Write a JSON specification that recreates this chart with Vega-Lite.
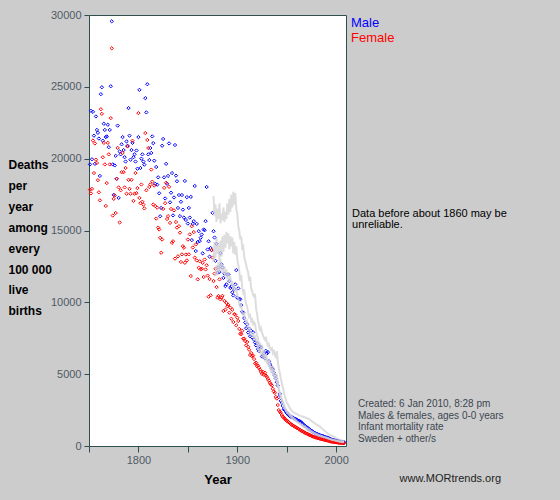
{
"$schema":"https://vega.github.io/schema/vega-lite/v6.json",
"width":257,"height":431,
"autosize":{"type":"none"},
"padding":{"left":89,"top":15,"right":214,"bottom":54},
"background":"#cccccc",
"config":{"view":{"stroke":"#2f4f4f","strokeWidth":1,"fill":"#ffffff"},"axis":{"grid":false,"domain":false,"tickColor":"#2f4f4f","tickWidth":1,"labelColor":"#4f5a64","labelFont":"Liberation Sans","labelFontSize":11,"titleFont":"Liberation Sans","titleColor":"#000000"}},
"datasets":{
"sweden":[
{"year":1751,"sex":"Male","rate":19600},{"year":1752,"sex":"Male","rate":23330},{"year":1753,"sex":"Male","rate":19960},{"year":1754,"sex":"Male","rate":23260},{"year":1755,"sex":"Male","rate":21600},{"year":1756,"sex":"Male","rate":19640},{"year":1757,"sex":"Male","rate":22940},{"year":1758,"sex":"Male","rate":22000},{"year":1759,"sex":"Male","rate":21800},{"year":1760,"sex":"Male","rate":21400},
{"year":1761,"sex":"Male","rate":18800},{"year":1762,"sex":"Male","rate":24490},{"year":1763,"sex":"Male","rate":24970},{"year":1764,"sex":"Male","rate":21250},{"year":1765,"sex":"Male","rate":22430},{"year":1766,"sex":"Male","rate":22000},{"year":1767,"sex":"Male","rate":21500},{"year":1768,"sex":"Male","rate":21550},{"year":1769,"sex":"Male","rate":22360},{"year":1770,"sex":"Male","rate":20800},
{"year":1771,"sex":"Male","rate":22000},{"year":1772,"sex":"Male","rate":25040},{"year":1773,"sex":"Male","rate":29560},{"year":1774,"sex":"Male","rate":19600},{"year":1775,"sex":"Male","rate":17480},{"year":1776,"sex":"Male","rate":19530},{"year":1777,"sex":"Male","rate":20200},{"year":1778,"sex":"Male","rate":18600},{"year":1779,"sex":"Male","rate":22300},{"year":1780,"sex":"Male","rate":17270},
{"year":1781,"sex":"Male","rate":20500},{"year":1782,"sex":"Male","rate":20300},{"year":1783,"sex":"Male","rate":21000},{"year":1784,"sex":"Male","rate":21500},{"year":1785,"sex":"Male","rate":20600},{"year":1786,"sex":"Male","rate":20100},{"year":1787,"sex":"Male","rate":19800},{"year":1788,"sex":"Male","rate":21200},{"year":1789,"sex":"Male","rate":20900},{"year":1790,"sex":"Male","rate":23520},
{"year":1791,"sex":"Male","rate":21600},{"year":1792,"sex":"Male","rate":19930},{"year":1793,"sex":"Male","rate":20600},{"year":1794,"sex":"Male","rate":21100},{"year":1795,"sex":"Male","rate":20100},{"year":1796,"sex":"Male","rate":20300},{"year":1797,"sex":"Male","rate":19800},{"year":1798,"sex":"Male","rate":20570},{"year":1799,"sex":"Male","rate":19300},{"year":1800,"sex":"Male","rate":21500},
{"year":1801,"sex":"Male","rate":24790},{"year":1802,"sex":"Male","rate":19350},{"year":1803,"sex":"Male","rate":20000},{"year":1804,"sex":"Male","rate":20300},{"year":1805,"sex":"Male","rate":19800},{"year":1806,"sex":"Male","rate":19580},{"year":1807,"sex":"Male","rate":24210},{"year":1808,"sex":"Male","rate":23220},{"year":1809,"sex":"Male","rate":25180},{"year":1810,"sex":"Male","rate":20300},
{"year":1811,"sex":"Male","rate":19900},{"year":1812,"sex":"Male","rate":20740},{"year":1813,"sex":"Male","rate":20400},{"year":1814,"sex":"Male","rate":21550},{"year":1815,"sex":"Male","rate":21080},{"year":1816,"sex":"Male","rate":19860},{"year":1817,"sex":"Male","rate":18250},{"year":1818,"sex":"Male","rate":19420},{"year":1819,"sex":"Male","rate":18190},{"year":1820,"sex":"Male","rate":18700},
{"year":1821,"sex":"Male","rate":17590},{"year":1822,"sex":"Male","rate":15990},{"year":1823,"sex":"Male","rate":16570},{"year":1824,"sex":"Male","rate":20900},{"year":1825,"sex":"Male","rate":21370},{"year":1826,"sex":"Male","rate":18700},{"year":1827,"sex":"Male","rate":17230},{"year":1828,"sex":"Male","rate":19640},{"year":1829,"sex":"Male","rate":18250},{"year":1830,"sex":"Male","rate":18800},
{"year":1831,"sex":"Male","rate":21060},{"year":1832,"sex":"Male","rate":16960},{"year":1833,"sex":"Male","rate":17630},{"year":1834,"sex":"Male","rate":19000},{"year":1835,"sex":"Male","rate":16050},{"year":1836,"sex":"Male","rate":17300},{"year":1837,"sex":"Male","rate":20950},{"year":1838,"sex":"Male","rate":18820},{"year":1839,"sex":"Male","rate":18430},{"year":1840,"sex":"Male","rate":16570},
{"year":1841,"sex":"Male","rate":17470},{"year":1842,"sex":"Male","rate":16000},{"year":1843,"sex":"Male","rate":17000},{"year":1844,"sex":"Male","rate":17470},{"year":1845,"sex":"Male","rate":16450},{"year":1846,"sex":"Male","rate":15900},{"year":1847,"sex":"Male","rate":18450},{"year":1848,"sex":"Male","rate":15730},{"year":1849,"sex":"Male","rate":17320},{"year":1850,"sex":"Male","rate":15480},
{"year":1851,"sex":"Male","rate":16570},{"year":1852,"sex":"Male","rate":15900},{"year":1853,"sex":"Male","rate":17340},{"year":1854,"sex":"Male","rate":14330},{"year":1855,"sex":"Male","rate":15460},{"year":1856,"sex":"Male","rate":15650},{"year":1857,"sex":"Male","rate":18100},{"year":1858,"sex":"Male","rate":13570},{"year":1859,"sex":"Male","rate":15460},{"year":1860,"sex":"Male","rate":14200},
{"year":1861,"sex":"Male","rate":14950},{"year":1862,"sex":"Male","rate":14260},{"year":1863,"sex":"Male","rate":14500},{"year":1864,"sex":"Male","rate":14720},{"year":1865,"sex":"Male","rate":13410},{"year":1866,"sex":"Male","rate":15070},{"year":1867,"sex":"Male","rate":15020},{"year":1868,"sex":"Male","rate":15650},{"year":1869,"sex":"Male","rate":18030},{"year":1870,"sex":"Male","rate":13680},
{"year":1871,"sex":"Male","rate":14250},{"year":1872,"sex":"Male","rate":13180},{"year":1873,"sex":"Male","rate":13780},{"year":1874,"sex":"Male","rate":13640},{"year":1875,"sex":"Male","rate":16230},{"year":1876,"sex":"Male","rate":14950},{"year":1877,"sex":"Male","rate":14510},{"year":1878,"sex":"Male","rate":12890},{"year":1879,"sex":"Male","rate":14070},{"year":1880,"sex":"Male","rate":12060},
{"year":1881,"sex":"Male","rate":12430},{"year":1882,"sex":"Male","rate":12110},{"year":1883,"sex":"Male","rate":13420},{"year":1884,"sex":"Male","rate":12650},{"year":1885,"sex":"Male","rate":12420},{"year":1886,"sex":"Male","rate":11700},{"year":1887,"sex":"Male","rate":12000},{"year":1888,"sex":"Male","rate":11130},{"year":1889,"sex":"Male","rate":11250},{"year":1890,"sex":"Male","rate":11940},
{"year":1891,"sex":"Male","rate":11940},{"year":1892,"sex":"Male","rate":11480},{"year":1893,"sex":"Male","rate":11000},{"year":1894,"sex":"Male","rate":11110},{"year":1895,"sex":"Male","rate":10700},{"year":1896,"sex":"Male","rate":10480},{"year":1897,"sex":"Male","rate":10920},{"year":1898,"sex":"Male","rate":11250},{"year":1899,"sex":"Male","rate":12240},{"year":1900,"sex":"Male","rate":10320},
{"year":1901,"sex":"Male","rate":10970},{"year":1902,"sex":"Male","rate":10250},{"year":1903,"sex":"Male","rate":10210},{"year":1904,"sex":"Male","rate":9810},{"year":1905,"sex":"Male","rate":9350},{"year":1906,"sex":"Male","rate":9280},{"year":1907,"sex":"Male","rate":8900},{"year":1908,"sex":"Male","rate":8600},{"year":1909,"sex":"Male","rate":8200},{"year":1910,"sex":"Male","rate":8470},
{"year":1911,"sex":"Male","rate":7900},{"year":1912,"sex":"Male","rate":8170},{"year":1913,"sex":"Male","rate":7640},{"year":1914,"sex":"Male","rate":8020},{"year":1915,"sex":"Male","rate":7560},{"year":1916,"sex":"Male","rate":7910},{"year":1917,"sex":"Male","rate":7400},{"year":1918,"sex":"Male","rate":7200},{"year":1919,"sex":"Male","rate":7000},{"year":1920,"sex":"Male","rate":7150},
{"year":1921,"sex":"Male","rate":6740},{"year":1922,"sex":"Male","rate":6600},{"year":1923,"sex":"Male","rate":6930},{"year":1924,"sex":"Male","rate":6860},{"year":1925,"sex":"Male","rate":6230},{"year":1926,"sex":"Male","rate":6300},{"year":1927,"sex":"Male","rate":6450},{"year":1928,"sex":"Male","rate":6100},{"year":1929,"sex":"Male","rate":6620},{"year":1930,"sex":"Male","rate":6440},
{"year":1931,"sex":"Male","rate":6530},{"year":1932,"sex":"Male","rate":5900},{"year":1933,"sex":"Male","rate":5700},{"year":1934,"sex":"Male","rate":5530},{"year":1935,"sex":"Male","rate":5400},{"year":1936,"sex":"Male","rate":5340},{"year":1937,"sex":"Male","rate":5110},{"year":1938,"sex":"Male","rate":4900},{"year":1939,"sex":"Male","rate":4700},{"year":1940,"sex":"Male","rate":4440},
{"year":1941,"sex":"Male","rate":4210},{"year":1942,"sex":"Male","rate":3400},{"year":1943,"sex":"Male","rate":3630},{"year":1944,"sex":"Male","rate":3140},{"year":1945,"sex":"Male","rate":3020},{"year":1946,"sex":"Male","rate":2790},{"year":1947,"sex":"Male","rate":2560},{"year":1948,"sex":"Male","rate":2500},{"year":1949,"sex":"Male","rate":2400},{"year":1950,"sex":"Male","rate":2300},
{"year":1951,"sex":"Male","rate":2250},{"year":1952,"sex":"Male","rate":2150},{"year":1953,"sex":"Male","rate":2100},{"year":1954,"sex":"Male","rate":2050},{"year":1955,"sex":"Male","rate":2000},{"year":1956,"sex":"Male","rate":1990},{"year":1957,"sex":"Male","rate":1950},{"year":1958,"sex":"Male","rate":1900},{"year":1959,"sex":"Male","rate":1870},{"year":1960,"sex":"Male","rate":1840},
{"year":1961,"sex":"Male","rate":1790},{"year":1962,"sex":"Male","rate":1750},{"year":1963,"sex":"Male","rate":1740},{"year":1964,"sex":"Male","rate":1680},{"year":1965,"sex":"Male","rate":1640},{"year":1966,"sex":"Male","rate":1550},{"year":1967,"sex":"Male","rate":1480},{"year":1968,"sex":"Male","rate":1420},{"year":1969,"sex":"Male","rate":1380},{"year":1970,"sex":"Male","rate":1330},
{"year":1971,"sex":"Male","rate":1270},{"year":1972,"sex":"Male","rate":1210},{"year":1973,"sex":"Male","rate":1160},{"year":1974,"sex":"Male","rate":1100},{"year":1975,"sex":"Male","rate":1060},{"year":1976,"sex":"Male","rate":1020},{"year":1977,"sex":"Male","rate":960},{"year":1978,"sex":"Male","rate":920},{"year":1979,"sex":"Male","rate":880},{"year":1980,"sex":"Male","rate":850},
{"year":1981,"sex":"Male","rate":830},{"year":1982,"sex":"Male","rate":800},{"year":1983,"sex":"Male","rate":770},{"year":1984,"sex":"Male","rate":740},{"year":1985,"sex":"Male","rate":720},{"year":1986,"sex":"Male","rate":700},{"year":1987,"sex":"Male","rate":680},{"year":1988,"sex":"Male","rate":650},{"year":1989,"sex":"Male","rate":620},{"year":1990,"sex":"Male","rate":600},
{"year":1991,"sex":"Male","rate":580},{"year":1992,"sex":"Male","rate":560},{"year":1993,"sex":"Male","rate":530},{"year":1994,"sex":"Male","rate":500},{"year":1995,"sex":"Male","rate":470},{"year":1996,"sex":"Male","rate":440},{"year":1997,"sex":"Male","rate":420},{"year":1998,"sex":"Male","rate":400},{"year":1999,"sex":"Male","rate":390},{"year":2000,"sex":"Male","rate":370},
{"year":2001,"sex":"Male","rate":360},{"year":2002,"sex":"Male","rate":340},{"year":2003,"sex":"Male","rate":330},{"year":2004,"sex":"Male","rate":310},{"year":2005,"sex":"Male","rate":300},{"year":2006,"sex":"Male","rate":290},{"year":2007,"sex":"Male","rate":280},{"year":2008,"sex":"Male","rate":270},
{"year":1751,"sex":"Female","rate":17850},{"year":1752,"sex":"Female","rate":17580},{"year":1753,"sex":"Female","rate":17900},{"year":1754,"sex":"Female","rate":21260},{"year":1755,"sex":"Female","rate":19000},{"year":1756,"sex":"Female","rate":21060},{"year":1757,"sex":"Female","rate":19930},{"year":1758,"sex":"Female","rate":19700},{"year":1759,"sex":"Female","rate":18500},{"year":1760,"sex":"Female","rate":17660},
{"year":1761,"sex":"Female","rate":17100},{"year":1762,"sex":"Female","rate":23440},{"year":1763,"sex":"Female","rate":23120},{"year":1764,"sex":"Female","rate":20100},{"year":1765,"sex":"Female","rate":21100},{"year":1766,"sex":"Female","rate":19600},{"year":1767,"sex":"Female","rate":16710},{"year":1768,"sex":"Female","rate":18300},{"year":1769,"sex":"Female","rate":21100},{"year":1770,"sex":"Female","rate":20300},
{"year":1771,"sex":"Female","rate":19600},{"year":1772,"sex":"Female","rate":22820},{"year":1773,"sex":"Female","rate":27680},{"year":1774,"sex":"Female","rate":16040},{"year":1775,"sex":"Female","rate":17200},{"year":1776,"sex":"Female","rate":17440},{"year":1777,"sex":"Female","rate":16220},{"year":1778,"sex":"Female","rate":18600},{"year":1779,"sex":"Female","rate":20750},{"year":1780,"sex":"Female","rate":18000},
{"year":1781,"sex":"Female","rate":15560},{"year":1782,"sex":"Female","rate":17800},{"year":1783,"sex":"Female","rate":19060},{"year":1784,"sex":"Female","rate":20400},{"year":1785,"sex":"Female","rate":19060},{"year":1786,"sex":"Female","rate":18000},{"year":1787,"sex":"Female","rate":19350},{"year":1788,"sex":"Female","rate":17560},{"year":1789,"sex":"Female","rate":20850},{"year":1790,"sex":"Female","rate":18530},
{"year":1791,"sex":"Female","rate":17900},{"year":1792,"sex":"Female","rate":17560},{"year":1793,"sex":"Female","rate":18530},{"year":1794,"sex":"Female","rate":21250},{"year":1795,"sex":"Female","rate":17060},{"year":1796,"sex":"Female","rate":17560},{"year":1797,"sex":"Female","rate":19000},{"year":1798,"sex":"Female","rate":17600},{"year":1799,"sex":"Female","rate":17950},{"year":1800,"sex":"Female","rate":23170},
{"year":1801,"sex":"Female","rate":17270},{"year":1802,"sex":"Female","rate":16900},{"year":1803,"sex":"Female","rate":18200},{"year":1804,"sex":"Female","rate":17000},{"year":1805,"sex":"Female","rate":16800},{"year":1806,"sex":"Female","rate":16540},{"year":1807,"sex":"Female","rate":21780},{"year":1808,"sex":"Female","rate":17800},{"year":1809,"sex":"Female","rate":21300},{"year":1810,"sex":"Female","rate":20740},
{"year":1811,"sex":"Female","rate":18030},{"year":1812,"sex":"Female","rate":18200},{"year":1813,"sex":"Female","rate":19240},{"year":1814,"sex":"Female","rate":18400},{"year":1815,"sex":"Female","rate":16810},{"year":1816,"sex":"Female","rate":18130},{"year":1817,"sex":"Female","rate":16700},{"year":1818,"sex":"Female","rate":15830},{"year":1819,"sex":"Female","rate":16590},{"year":1820,"sex":"Female","rate":15200},
{"year":1821,"sex":"Female","rate":15070},{"year":1822,"sex":"Female","rate":14490},{"year":1823,"sex":"Female","rate":13450},{"year":1824,"sex":"Female","rate":14370},{"year":1825,"sex":"Female","rate":16500},{"year":1826,"sex":"Female","rate":17970},{"year":1827,"sex":"Female","rate":16900},{"year":1828,"sex":"Female","rate":18320},{"year":1829,"sex":"Female","rate":15800},{"year":1830,"sex":"Female","rate":16000},
{"year":1831,"sex":"Female","rate":18040},{"year":1832,"sex":"Female","rate":15530},{"year":1833,"sex":"Female","rate":16500},{"year":1834,"sex":"Female","rate":14140},{"year":1835,"sex":"Female","rate":14250},{"year":1836,"sex":"Female","rate":16400},{"year":1837,"sex":"Female","rate":13040},{"year":1838,"sex":"Female","rate":15590},{"year":1839,"sex":"Female","rate":15200},{"year":1840,"sex":"Female","rate":13200},
{"year":1841,"sex":"Female","rate":15300},{"year":1842,"sex":"Female","rate":14850},{"year":1843,"sex":"Female","rate":12810},{"year":1844,"sex":"Female","rate":13340},{"year":1845,"sex":"Female","rate":13910},{"year":1846,"sex":"Female","rate":13800},{"year":1847,"sex":"Female","rate":12750},{"year":1848,"sex":"Female","rate":13330},{"year":1849,"sex":"Female","rate":12920},{"year":1850,"sex":"Female","rate":14370},
{"year":1851,"sex":"Female","rate":13340},{"year":1852,"sex":"Female","rate":14730},{"year":1853,"sex":"Female","rate":11830},{"year":1854,"sex":"Female","rate":15300},{"year":1855,"sex":"Female","rate":13820},{"year":1856,"sex":"Female","rate":14890},{"year":1857,"sex":"Female","rate":13110},{"year":1858,"sex":"Female","rate":14030},{"year":1859,"sex":"Female","rate":12910},{"year":1860,"sex":"Female","rate":11600},
{"year":1861,"sex":"Female","rate":12410},{"year":1862,"sex":"Female","rate":12860},{"year":1863,"sex":"Female","rate":12290},{"year":1864,"sex":"Female","rate":12340},{"year":1865,"sex":"Female","rate":12750},{"year":1866,"sex":"Female","rate":11760},{"year":1867,"sex":"Female","rate":12980},{"year":1868,"sex":"Female","rate":12290},{"year":1869,"sex":"Female","rate":12580},{"year":1870,"sex":"Female","rate":11860},
{"year":1871,"sex":"Female","rate":10390},{"year":1872,"sex":"Female","rate":11620},{"year":1873,"sex":"Female","rate":10490},{"year":1874,"sex":"Female","rate":13630},{"year":1875,"sex":"Female","rate":13120},{"year":1876,"sex":"Female","rate":11480},{"year":1877,"sex":"Female","rate":12000},{"year":1878,"sex":"Female","rate":12340},{"year":1879,"sex":"Female","rate":11060},{"year":1880,"sex":"Female","rate":10330},
{"year":1881,"sex":"Female","rate":10440},{"year":1882,"sex":"Female","rate":11600},{"year":1883,"sex":"Female","rate":10210},{"year":1884,"sex":"Female","rate":10320},{"year":1885,"sex":"Female","rate":10450},{"year":1886,"sex":"Female","rate":9400},{"year":1887,"sex":"Female","rate":10100},{"year":1888,"sex":"Female","rate":9490},{"year":1889,"sex":"Female","rate":9960},{"year":1890,"sex":"Female","rate":9730},
{"year":1891,"sex":"Female","rate":9820},{"year":1892,"sex":"Female","rate":9280},{"year":1893,"sex":"Female","rate":9630},{"year":1894,"sex":"Female","rate":8860},{"year":1895,"sex":"Female","rate":9490},{"year":1896,"sex":"Female","rate":8630},{"year":1897,"sex":"Female","rate":9180},{"year":1898,"sex":"Female","rate":9140},{"year":1899,"sex":"Female","rate":8400},{"year":1900,"sex":"Female","rate":8930},
{"year":1901,"sex":"Female","rate":8700},{"year":1902,"sex":"Female","rate":8150},{"year":1903,"sex":"Female","rate":7820},{"year":1904,"sex":"Female","rate":7780},{"year":1905,"sex":"Female","rate":8020},{"year":1906,"sex":"Female","rate":7470},{"year":1907,"sex":"Female","rate":7470},{"year":1908,"sex":"Female","rate":7300},{"year":1909,"sex":"Female","rate":7010},{"year":1910,"sex":"Female","rate":7240},
{"year":1911,"sex":"Female","rate":6900},{"year":1912,"sex":"Female","rate":6700},{"year":1913,"sex":"Female","rate":6330},{"year":1914,"sex":"Female","rate":6470},{"year":1915,"sex":"Female","rate":6250},{"year":1916,"sex":"Female","rate":6300},{"year":1917,"sex":"Female","rate":6050},{"year":1918,"sex":"Female","rate":5740},{"year":1919,"sex":"Female","rate":5800},{"year":1920,"sex":"Female","rate":5550},
{"year":1921,"sex":"Female","rate":5600},{"year":1922,"sex":"Female","rate":5440},{"year":1923,"sex":"Female","rate":5320},{"year":1924,"sex":"Female","rate":5160},{"year":1925,"sex":"Female","rate":5020},{"year":1926,"sex":"Female","rate":5160},{"year":1927,"sex":"Female","rate":4950},{"year":1928,"sex":"Female","rate":5100},{"year":1929,"sex":"Female","rate":4900},{"year":1930,"sex":"Female","rate":4800},
{"year":1931,"sex":"Female","rate":4670},{"year":1932,"sex":"Female","rate":4550},{"year":1933,"sex":"Female","rate":4400},{"year":1934,"sex":"Female","rate":4300},{"year":1935,"sex":"Female","rate":4210},{"year":1936,"sex":"Female","rate":3980},{"year":1937,"sex":"Female","rate":3800},{"year":1938,"sex":"Female","rate":3700},{"year":1939,"sex":"Female","rate":3420},{"year":1940,"sex":"Female","rate":3300},
{"year":1941,"sex":"Female","rate":2850},{"year":1942,"sex":"Female","rate":2500},{"year":1943,"sex":"Female","rate":2390},{"year":1944,"sex":"Female","rate":2300},{"year":1945,"sex":"Female","rate":2160},{"year":1946,"sex":"Female","rate":2050},{"year":1947,"sex":"Female","rate":1980},{"year":1948,"sex":"Female","rate":1900},{"year":1949,"sex":"Female","rate":1820},{"year":1950,"sex":"Female","rate":1760},
{"year":1951,"sex":"Female","rate":1710},{"year":1952,"sex":"Female","rate":1650},{"year":1953,"sex":"Female","rate":1600},{"year":1954,"sex":"Female","rate":1530},{"year":1955,"sex":"Female","rate":1480},{"year":1956,"sex":"Female","rate":1440},{"year":1957,"sex":"Female","rate":1400},{"year":1958,"sex":"Female","rate":1360},{"year":1959,"sex":"Female","rate":1300},{"year":1960,"sex":"Female","rate":1270},
{"year":1961,"sex":"Female","rate":1230},{"year":1962,"sex":"Female","rate":1190},{"year":1963,"sex":"Female","rate":1140},{"year":1964,"sex":"Female","rate":1100},{"year":1965,"sex":"Female","rate":1060},{"year":1966,"sex":"Female","rate":1020},{"year":1967,"sex":"Female","rate":980},{"year":1968,"sex":"Female","rate":940},{"year":1969,"sex":"Female","rate":900},{"year":1970,"sex":"Female","rate":870},
{"year":1971,"sex":"Female","rate":840},{"year":1972,"sex":"Female","rate":800},{"year":1973,"sex":"Female","rate":770},{"year":1974,"sex":"Female","rate":740},{"year":1975,"sex":"Female","rate":700},{"year":1976,"sex":"Female","rate":680},{"year":1977,"sex":"Female","rate":650},{"year":1978,"sex":"Female","rate":620},{"year":1979,"sex":"Female","rate":600},{"year":1980,"sex":"Female","rate":580},
{"year":1981,"sex":"Female","rate":560},{"year":1982,"sex":"Female","rate":540},{"year":1983,"sex":"Female","rate":520},{"year":1984,"sex":"Female","rate":500},{"year":1985,"sex":"Female","rate":480},{"year":1986,"sex":"Female","rate":470},{"year":1987,"sex":"Female","rate":450},{"year":1988,"sex":"Female","rate":430},{"year":1989,"sex":"Female","rate":410},{"year":1990,"sex":"Female","rate":400},
{"year":1991,"sex":"Female","rate":380},{"year":1992,"sex":"Female","rate":360},{"year":1993,"sex":"Female","rate":340},{"year":1994,"sex":"Female","rate":320},{"year":1995,"sex":"Female","rate":300},{"year":1996,"sex":"Female","rate":290},{"year":1997,"sex":"Female","rate":280},{"year":1998,"sex":"Female","rate":270},{"year":1999,"sex":"Female","rate":260},{"year":2000,"sex":"Female","rate":250},
{"year":2001,"sex":"Female","rate":240},{"year":2002,"sex":"Female","rate":230},{"year":2003,"sex":"Female","rate":220},{"year":2004,"sex":"Female","rate":210},{"year":2005,"sex":"Female","rate":210},{"year":2006,"sex":"Female","rate":200},{"year":2007,"sex":"Female","rate":200},{"year":2008,"sex":"Female","rate":190}
],
"others":[
{"country":"Other 1","year":1876,"rate":17400},{"country":"Other 1","year":1877,"rate":16000},{"country":"Other 1","year":1878,"rate":16800},{"country":"Other 1","year":1879,"rate":15600},{"country":"Other 1","year":1880,"rate":16500},{"country":"Other 1","year":1881,"rate":15800},{"country":"Other 1","year":1882,"rate":16900},{"country":"Other 1","year":1883,"rate":15500},{"country":"Other 1","year":1884,"rate":16200},{"country":"Other 1","year":1885,"rate":15700},
{"country":"Other 1","year":1886,"rate":16600},{"country":"Other 1","year":1887,"rate":15600},{"country":"Other 1","year":1888,"rate":16300},{"country":"Other 1","year":1889,"rate":15800},{"country":"Other 1","year":1890,"rate":16900},{"country":"Other 1","year":1891,"rate":16100},{"country":"Other 1","year":1892,"rate":17200},{"country":"Other 1","year":1893,"rate":16300},{"country":"Other 1","year":1894,"rate":17500},{"country":"Other 1","year":1895,"rate":16600},
{"country":"Other 1","year":1896,"rate":17700},{"country":"Other 1","year":1897,"rate":16800},{"country":"Other 1","year":1898,"rate":17600},{"country":"Other 1","year":1899,"rate":16500},{"country":"Other 1","year":1900,"rate":16200},{"country":"Other 1","year":1901,"rate":15300},{"country":"Other 1","year":1902,"rate":15000},{"country":"Other 1","year":1903,"rate":14400},{"country":"Other 1","year":1904,"rate":14600},{"country":"Other 1","year":1905,"rate":13800},
{"country":"Other 1","year":1906,"rate":13900},{"country":"Other 1","year":1907,"rate":13200},{"country":"Other 1","year":1908,"rate":12900},{"country":"Other 1","year":1909,"rate":12600},{"country":"Other 1","year":1910,"rate":12300},{"country":"Other 1","year":1911,"rate":12100},{"country":"Other 1","year":1912,"rate":11500},{"country":"Other 1","year":1913,"rate":11800},{"country":"Other 1","year":1914,"rate":11000},{"country":"Other 1","year":1915,"rate":10800},
{"country":"Other 1","year":1916,"rate":10500},{"country":"Other 1","year":1917,"rate":10400},{"country":"Other 1","year":1918,"rate":10600},{"country":"Other 1","year":1919,"rate":9600},{"country":"Other 1","year":1920,"rate":9200},{"country":"Other 1","year":1921,"rate":8700},{"country":"Other 1","year":1922,"rate":8400},{"country":"Other 1","year":1923,"rate":8000},{"country":"Other 1","year":1924,"rate":8200},{"country":"Other 1","year":1925,"rate":7900},
{"country":"Other 1","year":1926,"rate":7700},{"country":"Other 1","year":1927,"rate":7500},{"country":"Other 1","year":1928,"rate":7400},{"country":"Other 1","year":1929,"rate":7600},{"country":"Other 1","year":1930,"rate":7200},{"country":"Other 1","year":1931,"rate":7000},{"country":"Other 1","year":1932,"rate":7100},{"country":"Other 1","year":1933,"rate":6800},{"country":"Other 1","year":1934,"rate":6700},{"country":"Other 1","year":1935,"rate":6800},
{"country":"Other 1","year":1936,"rate":6500},{"country":"Other 1","year":1937,"rate":6700},{"country":"Other 1","year":1938,"rate":6300},{"country":"Other 1","year":1939,"rate":6200},{"country":"Other 1","year":1940,"rate":6600},{"country":"Other 1","year":1941,"rate":5900},{"country":"Other 1","year":1942,"rate":5400},{"country":"Other 1","year":1943,"rate":5100},{"country":"Other 1","year":1944,"rate":4700},{"country":"Other 1","year":1945,"rate":4400},
{"country":"Other 1","year":1946,"rate":4100},{"country":"Other 1","year":1947,"rate":3800},{"country":"Other 1","year":1948,"rate":3500},{"country":"Other 1","year":1949,"rate":3300},{"country":"Other 1","year":1950,"rate":3000},{"country":"Other 1","year":1951,"rate":2950},{"country":"Other 1","year":1952,"rate":2800},{"country":"Other 1","year":1953,"rate":2650},{"country":"Other 1","year":1954,"rate":2550},{"country":"Other 1","year":1955,"rate":2450},
{"country":"Other 1","year":1956,"rate":2400},{"country":"Other 1","year":1957,"rate":2350},{"country":"Other 1","year":1958,"rate":2300},{"country":"Other 1","year":1959,"rate":2250},{"country":"Other 1","year":1960,"rate":2250},{"country":"Other 1","year":1962,"rate":2150},{"country":"Other 1","year":1964,"rate":2100},{"country":"Other 1","year":1966,"rate":2050},{"country":"Other 1","year":1968,"rate":2000},{"country":"Other 1","year":1970,"rate":1950},
{"country":"Other 1","year":1972,"rate":1900},{"country":"Other 1","year":1974,"rate":1800},{"country":"Other 1","year":1976,"rate":1700},{"country":"Other 1","year":1978,"rate":1600},{"country":"Other 1","year":1980,"rate":1500},{"country":"Other 1","year":1982,"rate":1420},{"country":"Other 1","year":1984,"rate":1330},{"country":"Other 1","year":1986,"rate":1200},{"country":"Other 1","year":1988,"rate":1080},{"country":"Other 1","year":1990,"rate":950},
{"country":"Other 1","year":1992,"rate":850},{"country":"Other 1","year":1994,"rate":760},{"country":"Other 1","year":1996,"rate":700},{"country":"Other 1","year":1998,"rate":630},{"country":"Other 1","year":2000,"rate":560},{"country":"Other 1","year":2002,"rate":500},{"country":"Other 1","year":2004,"rate":440},{"country":"Other 1","year":2006,"rate":390},{"country":"Other 1","year":2008,"rate":360},
{"country":"Other 2","year":1876,"rate":12800},{"country":"Other 2","year":1877,"rate":14200},{"country":"Other 2","year":1878,"rate":13100},{"country":"Other 2","year":1879,"rate":14500},{"country":"Other 2","year":1880,"rate":13400},{"country":"Other 2","year":1881,"rate":14000},{"country":"Other 2","year":1882,"rate":12900},{"country":"Other 2","year":1883,"rate":14300},{"country":"Other 2","year":1884,"rate":13200},{"country":"Other 2","year":1885,"rate":14600},
{"country":"Other 2","year":1886,"rate":13500},{"country":"Other 2","year":1887,"rate":14700},{"country":"Other 2","year":1888,"rate":13800},{"country":"Other 2","year":1889,"rate":14900},{"country":"Other 2","year":1890,"rate":14100},{"country":"Other 2","year":1891,"rate":14800},{"country":"Other 2","year":1892,"rate":13700},{"country":"Other 2","year":1893,"rate":14600},{"country":"Other 2","year":1894,"rate":13900},{"country":"Other 2","year":1895,"rate":14500},
{"country":"Other 2","year":1896,"rate":13400},{"country":"Other 2","year":1897,"rate":14200},{"country":"Other 2","year":1898,"rate":13300},{"country":"Other 2","year":1899,"rate":13900},{"country":"Other 2","year":1900,"rate":13000},{"country":"Other 2","year":1901,"rate":12600},{"country":"Other 2","year":1902,"rate":12200},{"country":"Other 2","year":1903,"rate":11500},{"country":"Other 2","year":1904,"rate":11900},{"country":"Other 2","year":1905,"rate":11000},
{"country":"Other 2","year":1906,"rate":10700},{"country":"Other 2","year":1907,"rate":10900},{"country":"Other 2","year":1908,"rate":10200},{"country":"Other 2","year":1909,"rate":9900},{"country":"Other 2","year":1910,"rate":9700},{"country":"Other 2","year":1911,"rate":9300},{"country":"Other 2","year":1912,"rate":9000},{"country":"Other 2","year":1913,"rate":9100},{"country":"Other 2","year":1914,"rate":8700},{"country":"Other 2","year":1915,"rate":8800},
{"country":"Other 2","year":1916,"rate":8400},{"country":"Other 2","year":1917,"rate":8600},{"country":"Other 2","year":1918,"rate":8500},{"country":"Other 2","year":1919,"rate":8000},{"country":"Other 2","year":1920,"rate":7700},{"country":"Other 2","year":1921,"rate":7500},{"country":"Other 2","year":1922,"rate":7000},{"country":"Other 2","year":1923,"rate":7200},{"country":"Other 2","year":1924,"rate":6800},{"country":"Other 2","year":1925,"rate":6900},
{"country":"Other 2","year":1926,"rate":6500},{"country":"Other 2","year":1927,"rate":6600},{"country":"Other 2","year":1928,"rate":6200},{"country":"Other 2","year":1929,"rate":6400},{"country":"Other 2","year":1930,"rate":6000},{"country":"Other 2","year":1931,"rate":5800},{"country":"Other 2","year":1932,"rate":6000},{"country":"Other 2","year":1933,"rate":5600},{"country":"Other 2","year":1934,"rate":5400},{"country":"Other 2","year":1935,"rate":5500},
{"country":"Other 2","year":1936,"rate":5200},{"country":"Other 2","year":1937,"rate":5300},{"country":"Other 2","year":1938,"rate":4900},{"country":"Other 2","year":1939,"rate":4800},{"country":"Other 2","year":1940,"rate":5000},{"country":"Other 2","year":1941,"rate":4400},{"country":"Other 2","year":1942,"rate":4000},{"country":"Other 2","year":1943,"rate":3700},{"country":"Other 2","year":1944,"rate":3500},{"country":"Other 2","year":1945,"rate":3300},
{"country":"Other 2","year":1946,"rate":3100},{"country":"Other 2","year":1947,"rate":2900},{"country":"Other 2","year":1948,"rate":2700},{"country":"Other 2","year":1949,"rate":2600},{"country":"Other 2","year":1950,"rate":2450},{"country":"Other 2","year":1952,"rate":2300},{"country":"Other 2","year":1954,"rate":2150},{"country":"Other 2","year":1956,"rate":2000},{"country":"Other 2","year":1958,"rate":1880},{"country":"Other 2","year":1960,"rate":1750},
{"country":"Other 2","year":1962,"rate":1620},{"country":"Other 2","year":1964,"rate":1500},{"country":"Other 2","year":1966,"rate":1400},{"country":"Other 2","year":1968,"rate":1300},{"country":"Other 2","year":1970,"rate":1200},{"country":"Other 2","year":1972,"rate":1100},{"country":"Other 2","year":1974,"rate":1000},{"country":"Other 2","year":1976,"rate":920},{"country":"Other 2","year":1978,"rate":850},{"country":"Other 2","year":1980,"rate":780},
{"country":"Other 2","year":1982,"rate":720},{"country":"Other 2","year":1984,"rate":680},{"country":"Other 2","year":1986,"rate":640},{"country":"Other 2","year":1988,"rate":600},{"country":"Other 2","year":1990,"rate":560},{"country":"Other 2","year":1992,"rate":520},{"country":"Other 2","year":1994,"rate":460},{"country":"Other 2","year":1996,"rate":420},{"country":"Other 2","year":1998,"rate":390},{"country":"Other 2","year":2000,"rate":360},
{"country":"Other 2","year":2002,"rate":330},{"country":"Other 2","year":2004,"rate":300},{"country":"Other 2","year":2006,"rate":280},{"country":"Other 2","year":2008,"rate":260},
{"country":"Other 3","year":1878,"rate":11800},{"country":"Other 3","year":1879,"rate":12600},{"country":"Other 3","year":1880,"rate":11900},{"country":"Other 3","year":1881,"rate":12800},{"country":"Other 3","year":1882,"rate":12100},{"country":"Other 3","year":1883,"rate":13000},{"country":"Other 3","year":1884,"rate":12200},{"country":"Other 3","year":1885,"rate":12700},{"country":"Other 3","year":1886,"rate":12000},{"country":"Other 3","year":1887,"rate":12500},
{"country":"Other 3","year":1888,"rate":11800},{"country":"Other 3","year":1889,"rate":12300},{"country":"Other 3","year":1890,"rate":11600},{"country":"Other 3","year":1891,"rate":12100},{"country":"Other 3","year":1892,"rate":11400},{"country":"Other 3","year":1893,"rate":11800},{"country":"Other 3","year":1894,"rate":11200},{"country":"Other 3","year":1895,"rate":11500},{"country":"Other 3","year":1896,"rate":10900},{"country":"Other 3","year":1897,"rate":11200},
{"country":"Other 3","year":1898,"rate":10700},{"country":"Other 3","year":1899,"rate":11000},{"country":"Other 3","year":1900,"rate":10500},{"country":"Other 3","year":1901,"rate":10300},{"country":"Other 3","year":1902,"rate":9900},{"country":"Other 3","year":1903,"rate":9700},{"country":"Other 3","year":1904,"rate":9800},{"country":"Other 3","year":1905,"rate":9300},{"country":"Other 3","year":1906,"rate":9100},{"country":"Other 3","year":1907,"rate":9200},
{"country":"Other 3","year":1908,"rate":8800},{"country":"Other 3","year":1909,"rate":8600},{"country":"Other 3","year":1910,"rate":8700},{"country":"Other 3","year":1911,"rate":8300},{"country":"Other 3","year":1912,"rate":8100},{"country":"Other 3","year":1913,"rate":8200},{"country":"Other 3","year":1914,"rate":7900},{"country":"Other 3","year":1915,"rate":7700},{"country":"Other 3","year":1916,"rate":7800},{"country":"Other 3","year":1917,"rate":7500},
{"country":"Other 3","year":1918,"rate":7700},{"country":"Other 3","year":1919,"rate":7300},{"country":"Other 3","year":1920,"rate":7100},{"country":"Other 3","year":1921,"rate":6900},{"country":"Other 3","year":1922,"rate":6600},{"country":"Other 3","year":1923,"rate":6700},{"country":"Other 3","year":1924,"rate":6400},{"country":"Other 3","year":1925,"rate":6500},{"country":"Other 3","year":1926,"rate":6200},{"country":"Other 3","year":1927,"rate":6300},
{"country":"Other 3","year":1928,"rate":6000},{"country":"Other 3","year":1929,"rate":6100},{"country":"Other 3","year":1930,"rate":5800},{"country":"Other 3","year":1931,"rate":5700},{"country":"Other 3","year":1932,"rate":5800},{"country":"Other 3","year":1933,"rate":5500},{"country":"Other 3","year":1934,"rate":5200},{"country":"Other 3","year":1935,"rate":5300},{"country":"Other 3","year":1936,"rate":5000},{"country":"Other 3","year":1937,"rate":4900},
{"country":"Other 3","year":1938,"rate":4700},{"country":"Other 3","year":1939,"rate":4600},{"country":"Other 3","year":1940,"rate":4500},{"country":"Other 3","year":1941,"rate":4200},{"country":"Other 3","year":1942,"rate":3900},{"country":"Other 3","year":1943,"rate":3600},{"country":"Other 3","year":1944,"rate":3400},{"country":"Other 3","year":1945,"rate":3200},{"country":"Other 3","year":1946,"rate":3000},{"country":"Other 3","year":1947,"rate":2800},
{"country":"Other 3","year":1948,"rate":2650},{"country":"Other 3","year":1949,"rate":2500},{"country":"Other 3","year":1950,"rate":2350},{"country":"Other 3","year":1952,"rate":2200},{"country":"Other 3","year":1954,"rate":2050},{"country":"Other 3","year":1956,"rate":1900},{"country":"Other 3","year":1958,"rate":1800},{"country":"Other 3","year":1960,"rate":1700},{"country":"Other 3","year":1963,"rate":1580},{"country":"Other 3","year":1966,"rate":1450},
{"country":"Other 3","year":1969,"rate":1320},{"country":"Other 3","year":1972,"rate":1180},{"country":"Other 3","year":1975,"rate":1040},{"country":"Other 3","year":1978,"rate":920},{"country":"Other 3","year":1981,"rate":820},{"country":"Other 3","year":1984,"rate":740},{"country":"Other 3","year":1987,"rate":660},{"country":"Other 3","year":1990,"rate":600},{"country":"Other 3","year":1993,"rate":520},{"country":"Other 3","year":1996,"rate":450},
{"country":"Other 3","year":1999,"rate":400},{"country":"Other 3","year":2002,"rate":350},{"country":"Other 3","year":2005,"rate":310},{"country":"Other 3","year":2008,"rate":280}
]},
"layer":[
{"data":{"name":"sweden"},
 "mark":{"type":"point","shape":"diamond","filled":false,"size":11,"strokeWidth":1,"opacity":1},
 "encoding":{
  "x":{"field":"year","type":"quantitative","scale":{"domain":[1750,2010],"nice":false,"zero":false},
   "axis":{"values":[1750,1800,1850,1900,1950,2000],"format":"d","labelExpr":"datum.value % 100 == 0 ? datum.label : ''","tickSize":6,"labelPadding":2,"title":"Year","titleFontSize":13,"titleFontWeight":"bold","titleBaseline":"alphabetic","titleY":37}},
  "y":{"field":"rate","type":"quantitative","scale":{"domain":[0,30000],"nice":false},
   "axis":{"values":[0,5000,10000,15000,20000,25000,30000],"format":"d","tickSize":5,"labelPadding":3,
    "title":["Deaths","per","year","among","every","100 000","live","births"],
    "titleAngle":0,"titleAlign":"left","titleBaseline":"alphabetic","titleX":-81,"titleY":153.5,"titleLineHeight":20.9,"titleFontSize":12,"titleFontWeight":"bold"}},
  "color":{"field":"sex","type":"nominal","scale":{"domain":["Male","Female"],"range":["#0000ff","#ff0000"]},"legend":null}
 }},
{"data":{"name":"others"},
 "mark":{"type":"line","color":"#d2d2d2","opacity":0.75,"strokeWidth":2},
 "encoding":{"x":{"field":"year","type":"quantitative"},"y":{"field":"rate","type":"quantitative"},"detail":{"field":"country","type":"nominal"}}},
{"data":{"values":[{}]},
 "mark":{"type":"text","text":"Male","color":"#0000ff","font":"Liberation Sans","fontSize":13,"align":"left","baseline":"alphabetic"},
 "encoding":{"x":{"datum":2015.1,"type":"quantitative"},"y":{"datum":29130,"type":"quantitative"}}},
{"data":{"values":[{}]},
 "mark":{"type":"text","text":"Female","color":"#ff0000","font":"Liberation Sans","fontSize":13,"align":"left","baseline":"alphabetic"},
 "encoding":{"x":{"datum":2015.1,"type":"quantitative"},"y":{"datum":28086,"type":"quantitative"}}},
{"data":{"values":[{}]},
 "mark":{"type":"text","text":["Data before about 1860 may be","unreliable."],"color":"#000000","font":"Liberation Sans","fontSize":11,"lineHeight":11,"align":"left","baseline":"alphabetic"},
 "encoding":{"x":{"datum":2016.1,"type":"quantitative"},"y":{"datum":15940,"type":"quantitative"}}},
{"data":{"values":[{}]},
 "mark":{"type":"text","text":["Created: 6 Jan 2010, 8:28 pm","Males & females, ages 0-0 years","Infant mortality rate","Sweden + other/s"],"color":"#3c4650","font":"Liberation Sans","fontSize":10,"lineHeight":11.8,"align":"left","baseline":"alphabetic"},
 "encoding":{"x":{"datum":2022.1,"type":"quantitative"},"y":{"datum":2729,"type":"quantitative"}}},
{"data":{"values":[{}]},
 "mark":{"type":"text","text":"www.MORtrends.org","color":"#222222","font":"Liberation Sans","fontSize":11,"align":"center","baseline":"alphabetic"},
 "encoding":{"x":{"datum":2115.5,"type":"quantitative"},"y":{"datum":-2527,"type":"quantitative"}}}
]
}
